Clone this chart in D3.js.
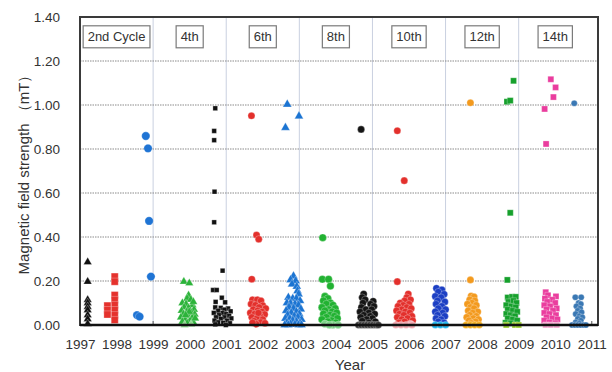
<!DOCTYPE html>
<html>
<head>
<meta charset="utf-8">
<script src="https://cdn.jsdelivr.net/npm/d3@7"></script>
<style>
  body { margin: 0; background: #fff; }
  svg { display: block; font-family: "Liberation Sans", Arial, sans-serif; }
</style>
</head>
<body>
<div id="chart"></div>
<script>
// tick labels
const yearTicks = [1997, 1998, 1999, 2000, 2001, 2002, 2003, 2004, 2005, 2006, 2007, 2008, 2009, 2010, 2011];
const fieldTicks = [0, 0.2, 0.4, 0.6, 0.8, 1.0, 1.2, 1.4];
const cycleNames = ['2nd Cycle', '4th', '6th', '8th', '10th', '12th', '14th'];
const cycleYears = [1998, 2000, 2002, 2004, 2006, 2008, 2010];

// measurements per year: [year position, field strength mT]
const s1997 = [[1997.21, 0.286], [1997.21, 0.197], [1997.21, 0.114], [1997.21, 0.100], [1997.21, 0.083],
  [1997.21, 0.068], [1997.21, 0.045], [1997.21, 0.027], [1997.21, 0.005]];
const s1998 = [[1997.95, 0.220], [1997.95, 0.197], [1997.95, 0.136], [1997.95, 0.114], [1997.95, 0.091],
  [1997.95, 0.068], [1997.95, 0.045], [1997.95, 0.023], [1997.75, 0.088], [1997.75, 0.068], [1997.75, 0.048]];
const s1999 = [[1998.56, 0.045], [1998.63, 0.038], [1998.80, 0.859], [1998.86, 0.803], [1998.89, 0.473], [1998.94, 0.220]];
const s2000 = [[1999.84, 0.197], [1999.99, 0.190], [1999.97, 0.135], [1999.93, 0.120], [2000.03, 0.115], [1999.80, 0.100],
  [1999.90, 0.095], [2000.08, 0.090], [1999.85, 0.080], [1999.97, 0.078], [2000.12, 0.070], [1999.78, 0.065],
  [1999.92, 0.060], [2000.05, 0.055], [1999.83, 0.050], [2000.14, 0.048], [1999.96, 0.040], [1999.76, 0.035],
  [2000.07, 0.032], [1999.88, 0.025], [2000.01, 0.020], [1999.80, 0.015], [2000.10, 0.012], [1999.93, 0.008],
  [2000.04, 0.003], [1999.86, 0.000], [2000.15, 0.030], [1999.99, 0.060], [2000.10, 0.105], [1999.89, 0.045]];
const s2001 = [[2000.70, 0.985], [2000.67, 0.882], [2000.67, 0.840], [2000.68, 0.606], [2000.67, 0.467],
  [2000.90, 0.247], [2000.64, 0.159], [2000.74, 0.159], [2000.88, 0.124], [2000.71, 0.105], [2000.97, 0.103],
  [2000.70, 0.080], [2000.85, 0.078], [2001.05, 0.075], [2000.95, 0.070], [2000.78, 0.065], [2001.12, 0.062],
  [2000.66, 0.055], [2000.90, 0.055], [2001.00, 0.050], [2000.80, 0.045], [2001.08, 0.042], [2000.72, 0.035],
  [2000.95, 0.035], [2001.14, 0.030], [2000.85, 0.028], [2000.68, 0.020], [2001.02, 0.020], [2000.78, 0.012],
  [2000.92, 0.010], [2001.10, 0.008], [2000.70, 0.003], [2000.99, 0.000]];
const s2002 = [[2001.69, 0.951], [2001.83, 0.409], [2001.89, 0.390], [2001.70, 0.208],
  [2001.72, 0.115], [2001.85, 0.115], [2001.95, 0.110], [2001.68, 0.095], [2001.80, 0.090], [2002.00, 0.088],
  [2001.90, 0.080], [2002.08, 0.075], [2001.74, 0.070], [2001.86, 0.065], [2001.98, 0.060], [2001.66, 0.055],
  [2001.78, 0.050], [2002.05, 0.048], [2001.92, 0.042], [2001.70, 0.035], [2001.84, 0.030], [2002.00, 0.025],
  [2001.76, 0.018], [2001.95, 0.012], [2002.06, 0.008], [2001.82, 0.004], [2001.88, 0.055], [2001.72, 0.010]];
const s2003 = [[2002.67, 1.003], [2002.62, 0.897], [2002.99, 0.949],
  [2002.84, 0.222], [2002.76, 0.205], [2002.90, 0.200], [2002.80, 0.185], [2002.93, 0.175], [2002.95, 0.155],
  [2002.98, 0.140], [2002.70, 0.125], [2002.82, 0.120], [2002.92, 0.120], [2003.02, 0.110], [2002.66, 0.100],
  [2002.76, 0.098], [2002.88, 0.095], [2002.98, 0.090], [2002.72, 0.080], [2002.84, 0.075], [2003.04, 0.072],
  [2002.64, 0.065], [2002.92, 0.060], [2002.78, 0.055], [2003.00, 0.050], [2002.68, 0.045], [2002.86, 0.040],
  [2002.96, 0.035], [2002.62, 0.030], [2002.74, 0.028], [2003.06, 0.025], [2002.82, 0.020], [2002.92, 0.015],
  [2002.66, 0.010], [2003.02, 0.008], [2002.76, 0.005], [2002.88, 0.002], [2002.98, 0.000], [2002.70, 0.000],
  [2002.60, 0.000], [2003.06, 0.000]];
const s2004 = [[2003.64, 0.397], [2003.63, 0.208], [2003.80, 0.208], [2003.85, 0.177],
  [2003.70, 0.130], [2003.78, 0.120], [2003.66, 0.110], [2003.85, 0.100], [2003.74, 0.095], [2003.92, 0.090],
  [2003.62, 0.080], [2003.98, 0.075], [2003.80, 0.070], [2003.70, 0.065], [2003.90, 0.060], [2004.02, 0.055],
  [2003.66, 0.050], [2003.84, 0.045], [2003.96, 0.040], [2003.74, 0.035], [2004.04, 0.030], [2003.62, 0.025],
  [2003.88, 0.020], [2003.78, 0.015], [2004.00, 0.010], [2003.70, 0.005], [2003.92, 0.000], [2003.82, 0.000],
  [2004.06, 0.000]];
const s2005 = [[2004.69, 0.889], [2004.76, 0.141], [2004.72, 0.125], [2004.80, 0.115], [2005.02, 0.108],
  [2004.74, 0.100], [2004.95, 0.095], [2005.04, 0.085], [2004.70, 0.080], [2004.82, 0.070], [2004.98, 0.070],
  [2004.66, 0.060], [2004.90, 0.055], [2005.06, 0.050], [2004.76, 0.045], [2004.94, 0.040], [2004.68, 0.035],
  [2005.00, 0.030], [2004.84, 0.025], [2004.72, 0.018], [2005.08, 0.015], [2004.90, 0.010],
  [2004.62, 0.000], [2004.70, 0.000], [2004.78, 0.000], [2004.86, 0.000], [2004.94, 0.000], [2005.02, 0.000],
  [2005.10, 0.000], [2005.16, 0.000]];
const s2006 = [[2005.68, 0.883], [2005.87, 0.656], [2005.68, 0.197],
  [2005.98, 0.141], [2005.94, 0.125], [2006.04, 0.115], [2005.88, 0.110], [2005.76, 0.100], [2006.00, 0.095],
  [2005.84, 0.090], [2005.70, 0.085], [2005.94, 0.080], [2006.06, 0.075], [2005.80, 0.070], [2005.66, 0.065],
  [2005.90, 0.060], [2006.02, 0.055], [2005.74, 0.050], [2005.86, 0.045], [2006.08, 0.040], [2005.68, 0.035],
  [2005.96, 0.030], [2005.80, 0.025], [2006.10, 0.020], [2005.88, 0.015], [2005.72, 0.010], [2006.04, 0.005],
  [2005.64, 0.000], [2005.78, 0.000], [2005.92, 0.000], [2006.08, 0.000]];
const s2007 = [[2006.75, 0.167], [2006.90, 0.160], [2006.80, 0.150], [2006.96, 0.140], [2006.72, 0.130],
  [2006.88, 0.125], [2006.78, 0.110], [2006.98, 0.105], [2006.74, 0.095], [2006.90, 0.085], [2006.80, 0.075],
  [2007.00, 0.070], [2006.72, 0.060], [2006.92, 0.055], [2006.78, 0.045], [2006.98, 0.040], [2006.74, 0.030],
  [2006.88, 0.025], [2006.80, 0.015], [2006.96, 0.010], [2006.72, 0.000], [2006.86, 0.000], [2007.00, 0.000]];
const s2008 = [[2007.68, 1.010], [2007.68, 0.205],
  [2007.70, 0.132], [2007.78, 0.128], [2007.66, 0.115], [2007.80, 0.110], [2007.72, 0.100], [2007.60, 0.095],
  [2007.84, 0.090], [2007.68, 0.080], [2007.78, 0.075], [2007.62, 0.065], [2007.88, 0.060], [2007.74, 0.055],
  [2007.66, 0.045], [2007.84, 0.040], [2007.58, 0.035], [2007.76, 0.030], [2007.90, 0.025], [2007.64, 0.020],
  [2007.82, 0.015], [2007.70, 0.008], [2007.56, 0.000], [2007.68, 0.000], [2007.80, 0.000], [2007.92, 0.000]];
const s2009 = [[2008.86, 1.110], [2008.68, 1.015], [2008.77, 1.020], [2008.77, 0.510], [2008.69, 0.205],
  [2008.70, 0.125], [2008.82, 0.128], [2008.92, 0.128], [2008.72, 0.105], [2008.86, 0.110], [2008.94, 0.100],
  [2008.66, 0.090], [2008.80, 0.085], [2008.92, 0.080], [2008.70, 0.070], [2008.84, 0.065], [2008.96, 0.060],
  [2008.66, 0.050], [2008.78, 0.045], [2008.90, 0.040], [2008.70, 0.030], [2008.84, 0.025], [2008.96, 0.020],
  [2008.64, 0.010], [2008.78, 0.008], [2008.90, 0.000], [2008.66, 0.000], [2009.00, 0.000]];
const s2010 = [[2009.88, 1.117], [2010.01, 1.080], [2009.95, 1.036], [2009.71, 0.982], [2009.75, 0.823],
  [2009.74, 0.149], [2009.80, 0.135], [2010.02, 0.130], [2009.72, 0.120], [2009.92, 0.115], [2009.78, 0.105],
  [2010.00, 0.100], [2009.70, 0.090], [2009.86, 0.085], [2010.04, 0.075], [2009.76, 0.070], [2009.94, 0.065],
  [2009.70, 0.055], [2009.84, 0.050], [2010.02, 0.045], [2009.76, 0.035], [2009.92, 0.030], [2010.06, 0.025],
  [2009.70, 0.020], [2009.84, 0.012], [2010.00, 0.008], [2009.74, 0.000], [2009.88, 0.000], [2010.04, 0.000]];
const s2011 = [[2010.52, 1.008], [2010.55, 0.126], [2010.71, 0.126], [2010.64, 0.100], [2010.70, 0.095],
  [2010.58, 0.085], [2010.68, 0.075], [2010.62, 0.065], [2010.72, 0.058], [2010.56, 0.050], [2010.66, 0.040],
  [2010.74, 0.035], [2010.62, 0.028], [2010.70, 0.020], [2010.56, 0.012], [2010.66, 0.008], [2010.46, 0.000],
  [2010.54, 0.000], [2010.62, 0.000], [2010.70, 0.000], [2010.78, 0.000], [2010.84, 0.000]];

const series = [
  { data: s1997, shape: d3.symbolTriangle, size: 30, color: '#111111', base: '#111111' },
  { data: s1998, shape: d3.symbolSquare, size: 50, color: '#e5322d', base: '#e5322d' },
  { data: s1999, shape: d3.symbolCircle, size: 55, color: '#1f74d4', base: '#1f74d4' },
  { data: s2000, shape: d3.symbolTriangle, size: 30, color: '#2cb33a', base: '#8fd68f' },
  { data: s2001, shape: d3.symbolSquare, size: 22, color: '#111111', base: '#111111' },
  { data: s2002, shape: d3.symbolCircle, size: 40, color: '#e3302c', base: '#e3302c' },
  { data: s2003, shape: d3.symbolTriangle, size: 34, color: '#1b74d2', base: '#1b74d2' },
  { data: s2004, shape: d3.symbolCircle, size: 45, color: '#22b232', base: '#7fd38a' },
  { data: s2005, shape: d3.symbolCircle, size: 40, color: '#151515', base: '#3c3c3c' },
  { data: s2006, shape: d3.symbolCircle, size: 40, color: '#e3302c', base: '#f0a8b0' },
  { data: s2007, shape: d3.symbolCircle, size: 40, color: '#1c3fc4', base: '#22b8f0' },
  { data: s2008, shape: d3.symbolCircle, size: 40, color: '#f39a1e', base: '#f5b020' },
  { data: s2009, shape: d3.symbolSquare, size: 36, color: '#16a02c', base: '#9acd32' },
  { data: s2010, shape: d3.symbolSquare, size: 36, color: '#ea3d9e', base: '#f4a6cf' },
  { data: s2011, shape: d3.symbolCircle, size: 30, color: '#3a78b4', base: '#3a78b4' }
];

const width = 612;
const height = 372;
const margin = { top: 17, right: 14, bottom: 47, left: 80 };
const plotW = width - margin.left - margin.right;
const plotH = height - margin.top - margin.bottom;

const svg = d3.select('#chart').append('svg')
  .attr('width', width)
  .attr('height', height);

const g = svg.append('g')
  .attr('transform', `translate(${margin.left}, ${margin.top})`);

const x = d3.scaleLinear()
  .domain([1997, 2011.17])
  .range([0, plotW]);

const y = d3.scaleLinear()
  .domain([0, 1.4])
  .range([plotH, 0]);

// vertical grid at odd years
g.append('g')
  .selectAll('line')
  .data(yearTicks.filter(d => d % 2 === 1 && d > 1997 && d < 2011))
  .enter().append('line')
  .attr('x1', d => x(d)).attr('x2', d => x(d))
  .attr('y1', 0).attr('y2', plotH)
  .attr('stroke', '#c9d0e0')
  .attr('stroke-width', 1);

// horizontal dotted grid
g.append('g')
  .selectAll('line')
  .data(fieldTicks.filter(d => d > 0 && d < 1.4))
  .enter().append('line')
  .attr('x1', 0).attr('x2', plotW)
  .attr('y1', d => y(d)).attr('y2', d => y(d))
  .attr('stroke', '#8a8a8a')
  .attr('stroke-width', 1)
  .attr('stroke-dasharray', '1.5,1');

// small inner ticks on the year axis
g.append('g')
  .selectAll('line')
  .data(yearTicks.filter(d => d % 2 === 1))
  .enter().append('line')
  .attr('x1', d => x(d)).attr('x2', d => x(d))
  .attr('y1', plotH).attr('y2', plotH - 4)
  .attr('stroke', '#555');

// cycle boxes
let boxes = g.append('g')
  .selectAll('g')
  .data(cycleNames)
  .enter().append('g')
  .attr('transform', (d, i) => `translate(${x(cycleYears[i])}, ${y(1.31)})`);

boxes.append('text')
  .attr('text-anchor', 'middle')
  .attr('dy', '0.35em')
  .style('font-size', '13px')
  .style('fill', '#333')
  .text(d => d);

boxes.insert('rect', 'text')
  .each(function () {
    let w = this.parentNode.querySelector('text').getComputedTextLength() + 9;
    d3.select(this)
      .attr('x', -w / 2).attr('y', -11)
      .attr('width', w).attr('height', 22);
  })
  .attr('fill', '#fff')
  .attr('stroke', '#7a7a7a')
  .attr('stroke-width', 1.2);

// points (thin light edge so overlapping markers stay readable)
series.forEach(s => {
  g.append('g')
    .selectAll('path')
    .data(s.data)
    .enter().append('path')
    .attr('transform', d => `translate(${x(d[0])}, ${y(d[1])})`)
    .attr('d', d3.symbol().type(s.shape).size(s.size))
    .attr('fill', d => d[1] <= 0.005 ? s.base : s.color)
    .attr('stroke', 'rgba(255,255,255,0.55)')
    .attr('stroke-width', 0.5);
});

// frame
g.append('rect')
  .attr('width', plotW)
  .attr('height', plotH)
  .attr('fill', 'none')
  .attr('stroke', '#3a3a3a')
  .attr('stroke-width', 2);

g.append('line')
  .attr('x1', 0).attr('x2', plotW)
  .attr('y1', plotH).attr('y2', plotH)
  .attr('stroke', '#111')
  .attr('stroke-width', 2.5);

// axes
let xAxis = g.append('g')
  .attr('transform', `translate(0, ${plotH})`)
  .call(d3.axisBottom(x).tickValues(yearTicks).tickFormat(d3.format('d')).tickSize(0).tickPadding(14));

let yAxis = g.append('g')
  .call(d3.axisLeft(y).tickValues(fieldTicks).tickFormat(d3.format('.2f')).tickSize(0).tickPadding(20));

[xAxis, yAxis].forEach(a => {
  a.select('.domain').remove();
  a.selectAll('text')
    .style('font-size', '13.5px')
    .style('fill', '#333')
    .style('font-family', '"Liberation Sans", Arial, sans-serif');
});

svg.append('text')
  .attr('transform', `translate(24, ${margin.top + plotH / 2}) rotate(-90)`)
  .attr('text-anchor', 'middle')
  .attr('dy', '0.35em')
  .style('font-size', '15px')
  .style('fill', '#333')
  .text('Magnetic field strength （mT）');

svg.append('text')
  .attr('x', 350)
  .attr('y', 370)
  .attr('text-anchor', 'middle')
  .style('font-size', '15px')
  .style('fill', '#333')
  .text('Year');
</script>
</body>
</html>
